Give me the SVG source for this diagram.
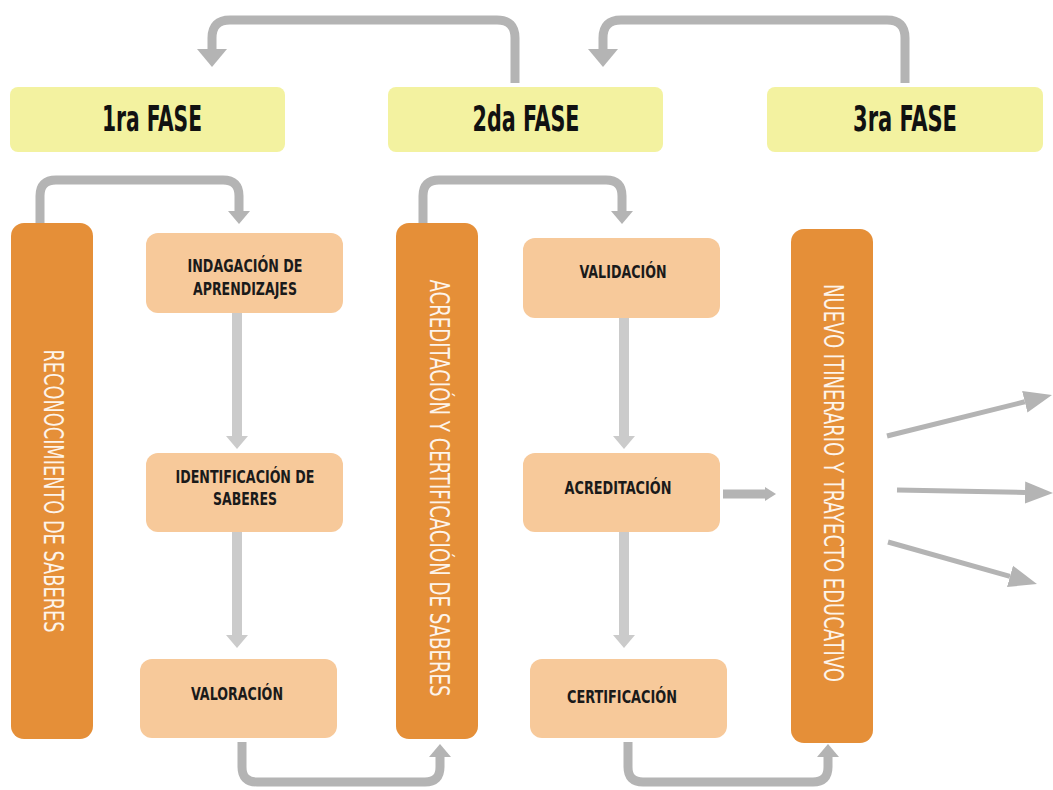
<svg xmlns="http://www.w3.org/2000/svg" width="1053" height="790" viewBox="0 0 1053 790">
<style>
.phase{fill:#f3f2a0}
.bar{fill:#e58f38}
.step{fill:#f7c99a}
.ph{font-family:"Liberation Sans Narrow","DejaVu Sans Condensed","Liberation Sans",sans-serif;font-weight:bold;font-size:35px;fill:#111;text-anchor:middle}
.st{font-family:"Liberation Sans Narrow","DejaVu Sans Condensed","Liberation Sans",sans-serif;font-weight:bold;font-size:17px;fill:#1a1a1a;text-anchor:middle}
.vt{font-family:"Liberation Sans Narrow","DejaVu Sans Condensed","Liberation Sans",sans-serif;font-size:22px;fill:#fdf4ea;text-anchor:middle}
.con{fill:none;stroke:#b4b4b4;stroke-width:9}
.conl{fill:none;stroke:#cbcbcb;stroke-width:10}
.head{fill:#b4b4b4}
.headl{fill:#cbcbcb}
.thin{fill:none;stroke:#b4b4b4;stroke-width:5}
</style>
<defs>
<marker id="ah" viewBox="0 -12 28 24" markerWidth="28" markerHeight="24" refX="0" refY="0" orient="auto" markerUnits="userSpaceOnUse">
<path d="M0,-11 L28,0 L0,11 z" fill="#b4b4b4"/>
</marker>
</defs>

<g id="connectors">
<path class="con" d="M515,83 V38 Q515,20 497,20 H230 Q212,20 212,38 V50"/>
<polygon class="head" points="197,49 227,49 212,67"/>
<path class="con" d="M905,83 V38 Q905,20 887,20 H621 Q603,20 603,38 V50"/>
<polygon class="head" points="588,49 618,49 603,67"/>

<path class="con" stroke-width="8" d="M40,223 V196 Q40,180 56,180 H223 Q239,180 239,196 V212"/>
<polygon class="head" points="228,211 250,211 239,224"/>
<path class="con" stroke-width="8" d="M423,223 V196 Q423,180 439,180 H606 Q622,180 622,196 V212"/>
<polygon class="head" points="611,211 633,211 622,224"/>

<path class="conl" d="M237,313 V437"/>
<polygon class="headl" points="226,436 248,436 237,449"/>
<path class="conl" d="M237,532 V636"/>
<polygon class="headl" points="226,635 248,635 237,648"/>
<path class="conl" d="M624,318 V437"/>
<polygon class="headl" points="613,436 635,436 624,449"/>
<path class="conl" d="M624,532 V636"/>
<polygon class="headl" points="613,635 635,635 624,648"/>

<path class="con" d="M242,742 V767 Q242,782 257,782 H425 Q440,782 440,767 V757"/>
<polygon class="head" points="429,757 451,757 440,744"/>
<path class="con" d="M628,742 V767 Q628,782 643,782 H813 Q828,782 828,767 V757"/>
<polygon class="head" points="817,757 839,757 828,744"/>

<path class="con" stroke-width="6" d="M723,494 H766"/>
<polygon class="head" points="765,487 765,501 776,494"/>

<path class="thin" d="M887,436 L1024.8,401.8" marker-end="url(#ah)"/>
<path class="thin" d="M897,490 L1025,492.5" marker-end="url(#ah)"/>
<path class="thin" d="M888,542 L1010,576.4" marker-end="url(#ah)"/>
</g>

<g id="fase1">
<rect class="phase" x="10" y="87" width="275" height="65" rx="8"/>
<text class="ph" x="152" y="131" textLength="100" lengthAdjust="spacingAndGlyphs">1ra FASE</text>
</g>
<g id="fase2">
<rect class="phase" x="388" y="87" width="275" height="65" rx="8"/>
<text class="ph" x="526" y="131" textLength="107" lengthAdjust="spacingAndGlyphs">2da FASE</text>
</g>
<g id="fase3">
<rect class="phase" x="767" y="87" width="276" height="65" rx="8"/>
<text class="ph" x="905" y="131" textLength="104" lengthAdjust="spacingAndGlyphs">3ra FASE</text>
</g>

<g id="reconocimiento">
<rect class="bar" x="11" y="223" width="82" height="516" rx="13"/>
<text class="vt" transform="translate(53,491) rotate(90) scale(1,1.18)" x="0" y="8" textLength="283" lengthAdjust="spacingAndGlyphs">RECONOCIMIENTO DE SABERES</text>
</g>
<g id="indagacion">
<rect class="step" x="146" y="233" width="197" height="80" rx="12"/>
<text class="st" x="245" y="272" textLength="115" lengthAdjust="spacingAndGlyphs">INDAGACIÓN DE</text>
<text class="st" x="245" y="295" textLength="104" lengthAdjust="spacingAndGlyphs">APRENDIZAJES</text>
</g>
<g id="identificacion">
<rect class="step" x="146" y="453" width="197" height="79" rx="12"/>
<text class="st" x="245" y="483" textLength="139" lengthAdjust="spacingAndGlyphs">IDENTIFICACIÓN DE</text>
<text class="st" x="245" y="505" textLength="64" lengthAdjust="spacingAndGlyphs">SABERES</text>
</g>
<g id="valoracion">
<rect class="step" x="140" y="659" width="197" height="79" rx="12"/>
<text class="st" x="237" y="700" textLength="92" lengthAdjust="spacingAndGlyphs">VALORACIÓN</text>
</g>

<g id="acreditacion-certificacion">
<rect class="bar" x="396" y="223" width="82" height="516" rx="13"/>
<text class="vt" transform="translate(439,488) rotate(90) scale(1,1.18)" x="0" y="8" textLength="417" lengthAdjust="spacingAndGlyphs">ACREDITACIÓN Y CERTIFICACIÓN DE SABERES</text>
</g>
<g id="validacion">
<rect class="step" x="523" y="238" width="197" height="80" rx="12"/>
<text class="st" x="623" y="278" textLength="87" lengthAdjust="spacingAndGlyphs">VALIDACIÓN</text>
</g>
<g id="acreditacion">
<rect class="step" x="523" y="453" width="197" height="79" rx="12"/>
<text class="st" x="618" y="494" textLength="107" lengthAdjust="spacingAndGlyphs">ACREDITACIÓN</text>
</g>
<g id="certificacion">
<rect class="step" x="530" y="659" width="197" height="79" rx="12"/>
<text class="st" x="622" y="703" textLength="110" lengthAdjust="spacingAndGlyphs">CERTIFICACIÓN</text>
</g>

<g id="nuevo-itinerario">
<rect class="bar" x="791" y="229" width="82" height="514" rx="13"/>
<text class="vt" transform="translate(833,483) rotate(90) scale(1,1.18)" x="0" y="8" textLength="398" lengthAdjust="spacingAndGlyphs">NUEVO ITINERARIO Y TRAYECTO EDUCATIVO</text>
</g>
</svg>
